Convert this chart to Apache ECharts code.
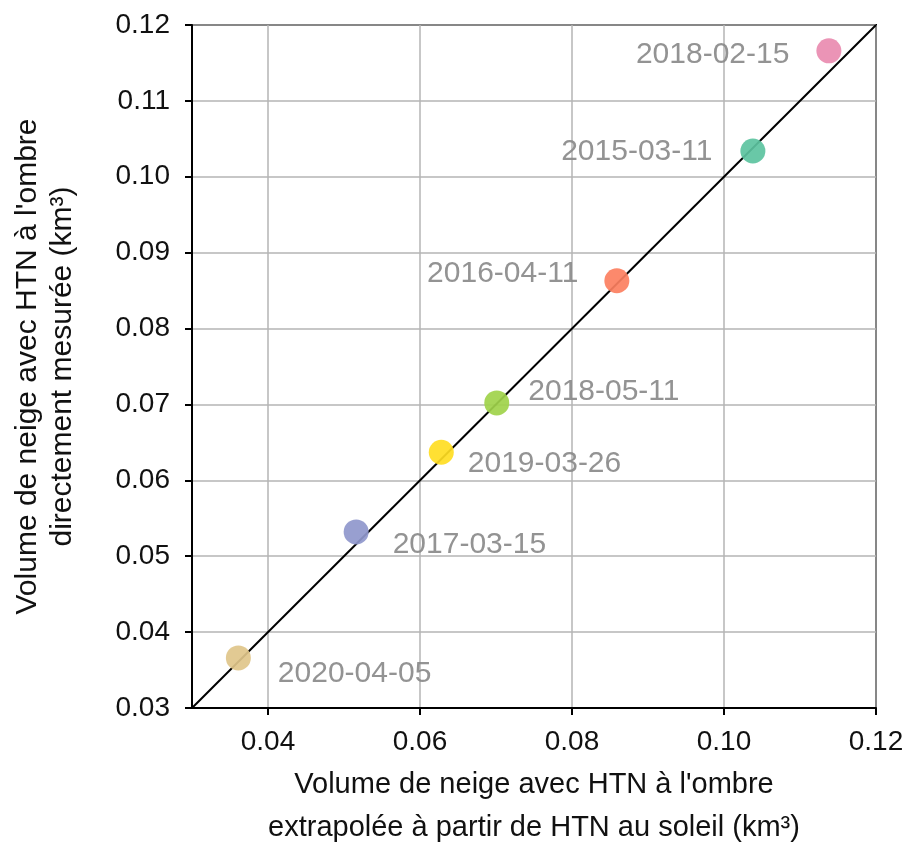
<!DOCTYPE html>
<html>
<head>
<meta charset="utf-8">
<script src="https://cdn.jsdelivr.net/npm/echarts@6/dist/echarts.min.js"></script>
<style>html,body{margin:0;padding:0;background:#fff}#c{width:914px;height:844px}</style>
</head>
<body>
<div id="c"></div>
<script>
// Data
var dates = ['2018-02-15','2015-03-11','2016-04-11','2018-05-11','2019-03-26','2017-03-15','2020-04-05'];
var sunExtrapolated = [0.1138, 0.1038, 0.0859, 0.0701, 0.0628, 0.0516, 0.0361];
var shadeMeasured = [0.1166, 0.1034, 0.0863, 0.0702, 0.0637, 0.0532, 0.0366];
var pointColors = ['#e98bb0','#5cc39f','#fc7f5f','#9fd24a','#ffdd22','#8f97cc','#e0c68a'];
var xTicks = [0.04, 0.06, 0.08, 0.10, 0.12];
var yTicks = [0.03, 0.04, 0.05, 0.06, 0.07, 0.08, 0.09, 0.10, 0.11, 0.12];
var identityLine = [0.03, 0.12];

// label placement (style only)
var labelPlace = [
  {position:'left', offset:[-22, 4]},
  {position:'left', offset:[-23, 1]},
  {position:'left', offset:[-21, -7]},
  {position:'right', offset:[14, -11]},
  {position:'right', offset:[9, 11]},
  {position:'right', offset:[19, 13]},
  {position:'right', offset:[22, 16]}
];

var font = '"Liberation Sans", Arial, sans-serif';
var chart = echarts.init(document.getElementById('c'));
var scatterData = dates.map(function (d, i) {
  return {
    name: d,
    value: [sunExtrapolated[i], shadeMeasured[i]],
    itemStyle: {color: pointColors[i], opacity: 0.92},
    label: {show: true, formatter: d, position: labelPlace[i].position, offset: labelPlace[i].offset,
      color: '#8a8a8a', fontSize: 30, fontFamily: font}
  };
});

chart.setOption({
  animation: false,
  grid: {left: 192, right: 38, top: 25, bottom: 136, show: true, borderColor: '#000', borderWidth: 2,
    containLabel: false, outerBoundsMode: 'none'},
  xAxis: {
    type: 'value', min: 0.03, max: 0.12,
    name: "Volume de neige avec HTN à l'ombre\nextrapolée à partir de HTN au soleil (km³)",
    nameLocation: 'middle', nameGap: 55,
    nameTextStyle: {color: '#111', fontSize: 29, fontFamily: font, lineHeight: 43},
    axisLine: {onZero: false, lineStyle: {color: '#000', width: 2}},
    axisTick: {show: true, length: 7, customValues: xTicks, lineStyle: {color: '#000', width: 2}},
    axisLabel: {customValues: xTicks, color: '#111', fontSize: 28, fontFamily: font, margin: 20,
      formatter: function (v) { return v.toFixed(2); }},
    splitLine: {show: true, lineStyle: {color: '#b5b5b5', width: 1.5}}
  },
  yAxis: {
    type: 'value', min: 0.03, max: 0.12, interval: 0.01,
    name: "Volume de neige avec HTN à l'ombre\ndirectement mesurée (km³)",
    nameLocation: 'middle', nameGap: 112,
    nameTextStyle: {color: '#111', fontSize: 30, fontFamily: font, lineHeight: 35},
    axisLine: {onZero: false, lineStyle: {color: '#000', width: 2}},
    axisTick: {show: true, length: 7, lineStyle: {color: '#000', width: 2}},
    axisLabel: {color: '#111', fontSize: 28, fontFamily: font, margin: 22,
      formatter: function (v) { return v.toFixed(2); }},
    splitLine: {show: true, lineStyle: {color: '#b5b5b5', width: 1.5}}
  },
  series: [
    {
      type: 'line', data: [[identityLine[0], identityLine[0]], [identityLine[1], identityLine[1]]],
      symbol: 'none', lineStyle: {color: '#000', width: 2}, z: 2, silent: true
    },
    {
      type: 'scatter', symbolSize: 25, data: scatterData, z: 3
    }
  ]
});
</script>
</body>
</html>
